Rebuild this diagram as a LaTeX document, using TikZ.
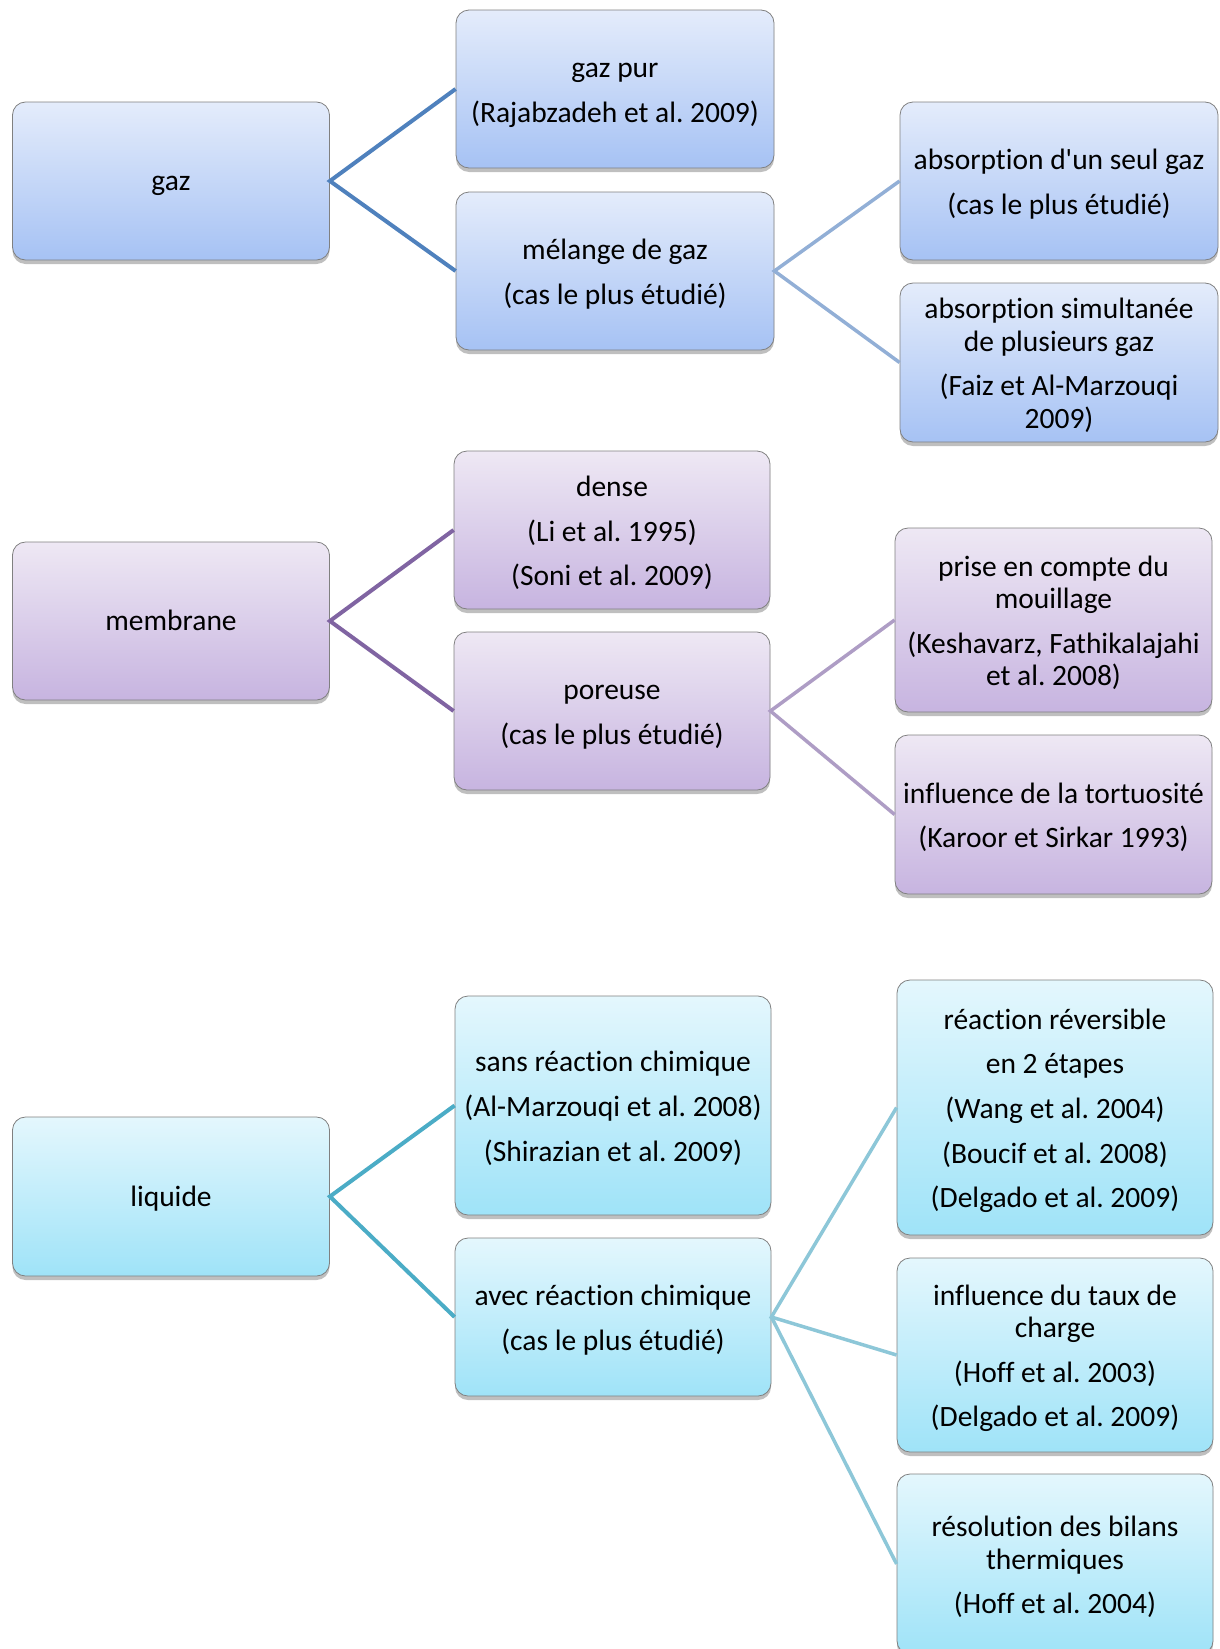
\documentclass[tikz,border=0pt]{standalone}
\usepackage{fontspec}
\newfontfamily\carl{Carlito}[Ligatures=NoCommon]
\usetikzlibrary{shadows}
\definecolor{gtop}{HTML}{E4ECFB}
\definecolor{gbot}{HTML}{A6C2F4}
\definecolor{mtop}{HTML}{EEE8F4}
\definecolor{mbot}{HTML}{C7B4E0}
\definecolor{ltop}{HTML}{E4F7FD}
\definecolor{lbot}{HTML}{9FE3F8}
\definecolor{gline}{HTML}{4F81BD}
\definecolor{gline2}{HTML}{92AFD6}
\definecolor{mline}{HTML}{8064A2}
\definecolor{mline2}{HTML}{AE9DC5}
\definecolor{lline}{HTML}{4BACC6}
\definecolor{lline2}{HTML}{8DC7D8}
\tikzset{
  box/.style={draw=black!50, line width=0.8pt, rounded corners=13pt, align=center,
    inner sep=0pt, font=\carl\fontsize{29.5}{32.6}\selectfont\frenchspacing,
    execute at begin node={\rule{0pt}{27pt}},
    execute at end node={\rule[-7.4pt]{0pt}{7.4pt}},
    drop shadow={shadow xshift=0pt, shadow yshift=-4pt, opacity=0.25, fill=black}},
  gbox/.style={box, top color=gtop, bottom color=gbot},
  mbox/.style={box, top color=mtop, bottom color=mbot},
  lbox/.style={box, top color=ltop, bottom color=lbot},
  conn/.style={line width=4pt},
  conntwo/.style={line width=3.5pt}
}
\newcommand{\pbr}{\\[12pt]}
\newcommand{\fs}{\rule{0pt}{29.5pt}}
\begin{document}
\begin{tikzpicture}[x=1pt,y=-1pt]
\useasboundingbox (0,0) rectangle (1219,1649);
\clip (0,0) rectangle (1219,1649);
% gaz group
\node[gbox, minimum width=317pt, minimum height=158pt] (gaz) at (171,181) {gaz};
\node[gbox, minimum width=318pt, minimum height=158pt] (gazpur) at (615,89) {\fs gaz pur\pbr(Rajabzadeh et al. 2009)};
\node[gbox, minimum width=318pt, minimum height=158pt] (melange) at (615,271) {\fs mélange de gaz\pbr(cas le plus étudié)};
\node[gbox, minimum width=318pt, minimum height=158pt] (absun) at (1059,181) {\fs absorption d'un seul gaz\pbr(cas le plus étudié)};
\node[gbox, minimum width=318pt, minimum height=159pt] (absplus) at (1059,362.5) {\fs absorption simultanée\\de plusieurs gaz\pbr(Faiz et Al-Marzouqi\\2009)};
% membrane group
\node[mbox, minimum width=317pt, minimum height=158pt] (membrane) at (171,621) {membrane};
\node[mbox, minimum width=316pt, minimum height=158pt] (dense) at (612,530) {\fs dense\pbr(Li et al. 1995)\pbr(Soni et al. 2009)};
\node[mbox, minimum width=316pt, minimum height=158pt] (poreuse) at (612,711) {\fs poreuse\pbr(cas le plus étudié)};
\node[mbox, minimum width=317pt, minimum height=184pt] (mouillage) at (1053.5,620) {\fs prise en compte du\\mouillage\pbr(Keshavarz, Fathikalajahi\\et al. 2008)};
\node[mbox, minimum width=317pt, minimum height=159pt] (tortuosite) at (1053.5,814.5) {\fs influence de la tortuosité\pbr(Karoor et Sirkar 1993)};
% liquide group
\node[lbox, minimum width=317pt, minimum height=159pt] (liquide) at (171,1196.5) {liquide};
\node[lbox, minimum width=316pt, minimum height=219pt] (sans) at (613,1105.5) {\fs sans réaction chimique\pbr(Al-Marzouqi et al. 2008)\pbr(Shirazian et al. 2009)};
\node[lbox, minimum width=316pt, minimum height=158pt] (avec) at (613,1317) {\fs avec réaction chimique\pbr(cas le plus étudié)};
\node[lbox, minimum width=316pt, minimum height=255pt] (reversible) at (1055,1107.5) {\fs réaction réversible\pbr en 2 étapes\pbr(Wang et al. 2004)\pbr(Boucif et al. 2008)\pbr(Delgado et al. 2009)};
\node[lbox, minimum width=316pt, minimum height=194pt] (charge) at (1055,1355) {\fs influence du taux de\\charge\pbr(Hoff et al. 2003)\pbr(Delgado et al. 2009)};
\node[lbox, minimum width=316pt, minimum height=180pt] (bilans) at (1055,1564) {\fs résolution des bilans\\thermiques\pbr(Hoff et al. 2004)};
% connectors
\draw[conn, gline] (gazpur.west) -- (gaz.east) -- (melange.west);
\draw[conntwo, gline2] (absun.west) -- (melange.east) -- (absplus.west);
\draw[conn, mline] (dense.west) -- (membrane.east) -- (poreuse.west);
\draw[conntwo, mline2] (mouillage.west) -- (poreuse.east) -- (tortuosite.west);
\draw[conn, lline] (sans.west) -- (liquide.east) -- (avec.west);
\draw[conntwo, lline2] (reversible.west) -- (avec.east) -- (charge.west);
\draw[conntwo, lline2] (avec.east) -- (bilans.west);
\end{tikzpicture}
\end{document}
